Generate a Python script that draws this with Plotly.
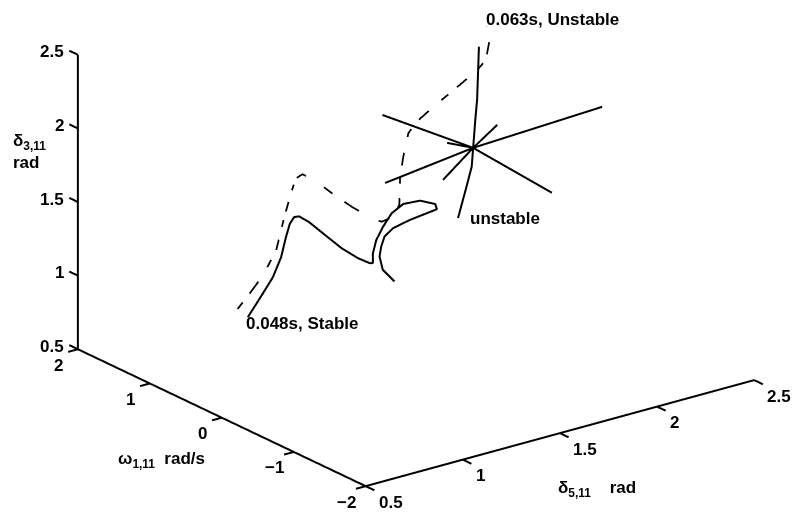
import plotly.graph_objects as go

# ---- trajectory data: (delta_5,11 [rad], omega_1,11 [rad/s], delta_3,11 [rad]) ----
# clearing time 0.048 s -> stable trajectory
stab_d5 = [1.004, 1.101, 1.170, 1.194, 1.182, 1.165, 1.150, 1.138, 1.133, 1.144,
           1.155, 1.165, 1.169, 1.167, 1.167, 1.203, 1.275, 1.356, 1.453, 1.558,
           1.636, 1.626, 1.555, 1.431, 1.308, 1.227, 1.191, 1.164, 1.162, 1.178, 1.185]
stab_w = [1.0, 1.1, 1.1, 1.05, 0.95, 0.85, 0.75, 0.65, 0.5, 0.3,
          0.1, -0.1, -0.25, -0.3, -0.3, -0.25, -0.15, -0.05, 0.05, 0.1,
          0.1, 0.05, 0.0, -0.1, -0.2, -0.3, -0.35, -0.4, -0.45, -0.5, -0.55]
stab_d3 = [0.768, 0.834, 0.956, 1.095, 1.259, 1.380, 1.454, 1.487, 1.486, 1.438,
           1.391, 1.367, 1.367, 1.379, 1.447, 1.513, 1.554, 1.592, 1.597, 1.570,
           1.519, 1.499, 1.509, 1.531, 1.543, 1.539, 1.495, 1.449, 1.371, 1.332, 1.307]

# clearing time 0.063 s -> unstable trajectory
unst_d5 = [0.952, 1.049, 1.137, 1.187, 1.192, 1.189, 1.177, 1.174, 1.196, 1.235,
           1.281, 1.328, 1.353, 1.391, 1.414, 1.418, 1.442, 1.479, 1.541, 1.664,
           1.805, 1.982, 2.063, 2.136, 2.176]
unst_w = [1.0, 1.1, 1.15, 1.1, 1.0, 0.9, 0.8, 0.7, 0.6, 0.45,
          0.3, 0.15, 0.08, 0.02, 0.0, 0.0, 0.02, 0.05, 0.1, 0.2,
          0.3, 0.45, 0.55, 0.7, 0.85]
unst_d3 = [0.843, 0.887, 0.968, 1.132, 1.380, 1.564, 1.694, 1.748, 1.728, 1.654,
           1.581, 1.521, 1.505, 1.540, 1.616, 1.807, 1.930, 2.069, 2.113, 2.147,
           2.186, 2.223, 2.239, 2.301, 2.354]

# unstable equilibrium point and the manifold curve through it
uep = (1.794, 0.0, 1.867)
man_d5 = [1.605, 1.686, 1.757, 1.794, 1.842, 1.881, 1.972]
man_w = [-0.3, -0.2, -0.08, 0.0, 0.1, 0.18, 0.4]
man_d3 = [1.528, 1.690, 1.772, 1.867, 2.016, 2.120, 2.397]

# eigen-direction rays through the UEP (start, end); None = ends at the UEP
ray_start = [(1.438, 0.3, 2.149), (1.378, 0.1, 1.755), (1.602, -0.1, 1.742), (1.660, 0.0, 1.949)]
ray_end = [(2.088, -0.3, 1.526), (2.421, -0.1, 1.943), (1.955, 0.1, 1.942), None]

# axis ticks
d5_ticks = [0.5, 1, 1.5, 2, 2.5]
w_ticks = [-2, -1, 0, 1, 2]
d3_ticks = [0.5, 1, 1.5, 2, 2.5]
d5_labels = ["0.5", "1", "1.5", "2", "2.5"]
w_labels = ["\u22122", "\u22121", "0", "1", "2"]
d3_labels = ["0.5", "1", "1.5", "2", "2.5"]

d5_min, d5_max = d5_ticks[0], d5_ticks[-1]
w_min, w_max = w_ticks[0], w_ticks[-1]
d3_min, d3_max = d3_ticks[0], d3_ticks[-1]

FONT = dict(family="Liberation Sans, Arial, sans-serif", size=17, color="black", weight="bold")
BLACK = "black"
LW = 4

fig = go.Figure()

# trajectories
fig.add_trace(go.Scatter3d(x=stab_d5, y=stab_w, z=stab_d3, mode="lines",
                           line=dict(color=BLACK, width=LW)))
fig.add_trace(go.Scatter3d(x=unst_d5, y=unst_w, z=unst_d3, mode="lines",
                           line=dict(color=BLACK, width=3.5, dash="longdashdot")))
fig.add_trace(go.Scatter3d(x=man_d5, y=man_w, z=man_d3, mode="lines",
                           line=dict(color=BLACK, width=LW)))

rx, ry, rz = [], [], []
for s, e in zip(ray_start, ray_end):
    pts = [s, uep] + ([e] if e is not None else [])
    for p in pts:
        rx.append(p[0]); ry.append(p[1]); rz.append(p[2])
    rx.append(None); ry.append(None); rz.append(None)
fig.add_trace(go.Scatter3d(x=rx, y=ry, z=rz, mode="lines",
                           line=dict(color=BLACK, width=LW)))

# axis lines along the near edges of the box, with outward tick marks
ax_x = [d5_min, d5_min, None, d5_min, d5_min, None, d5_min, d5_max]
ax_y = [w_max, w_max, None, w_max, w_min, None, w_min, w_min]
ax_z = [d3_min, d3_max, None, d3_min, d3_min, None, d3_min, d3_min]
tick_w = 0.12   # tick length along omega
tick_d = 0.05   # tick length along delta_5
for t in d3_ticks:
    ax_x += [None, d5_min, d5_min]; ax_y += [None, w_max, w_max + tick_w]; ax_z += [None, t, t]
for t in w_ticks:
    ax_x += [None, d5_min, d5_min - tick_d]; ax_y += [None, t, t]; ax_z += [None, d3_min, d3_min]
for t in d5_ticks:
    ax_x += [None, t, t]; ax_y += [None, w_min, w_min - tick_w]; ax_z += [None, d3_min, d3_min]
fig.add_trace(go.Scatter3d(x=ax_x, y=ax_y, z=ax_z, mode="lines",
                           line=dict(color=BLACK, width=LW)))

anns = []
for t, lab in zip(d3_ticks, d3_labels):
    anns.append(dict(x=d5_min, y=w_max, z=t, text=lab, xanchor="right", yanchor="middle",
                     xshift=-12, yshift=3))
for t, lab in zip(w_ticks, w_labels):
    anns.append(dict(x=d5_min, y=t, z=d3_min, text=lab, xanchor="center", yanchor="middle",
                     xshift=-19, yshift=-16))
for t, lab in zip(d5_ticks, d5_labels):
    anns.append(dict(x=t, y=w_min, z=d3_min, text=lab, xanchor="left", yanchor="middle",
                     xshift=11, yshift=-16))

# axis titles
anns.append(dict(x=d5_min, y=w_max, z=1.84, text="\u03b4<sub>3,11</sub><br>rad", align="left",
                 xanchor="left", yanchor="middle", xshift=-67, yshift=0))
anns.append(dict(x=d5_min, y=0.5, z=d3_min, text="\u03c9<sub>1,11</sub>  rad/s",
                 xanchor="center", yanchor="middle", xshift=-24, yshift=-59))
anns.append(dict(x=1.5, y=w_min, z=d3_min, text="\u03b4<sub>5,11</sub>    rad",
                 xanchor="center", yanchor="middle", xshift=37, yshift=-56))

# curve labels
anns.append(dict(x=unst_d5[-1], y=unst_w[-1], z=unst_d3[-1], text="0.063s, Unstable",
                 xanchor="left", yanchor="middle", xshift=-2, yshift=7))
anns.append(dict(x=man_d5[0], y=man_w[0], z=man_d3[0], text="unstable",
                 xanchor="left", yanchor="middle", xshift=10, yshift=0))
anns.append(dict(x=stab_d5[0], y=stab_w[0], z=stab_d3[0], text="0.048s, Stable",
                 xanchor="left", yanchor="middle", xshift=-4, yshift=-6))

for a in anns:
    a["showarrow"] = False
    a["font"] = FONT

hidden = dict(visible=False, autorange=False)
fig.update_layout(
    width=795, height=514,
    margin=dict(l=0, r=0, t=0, b=0),
    paper_bgcolor="white",
    showlegend=False,
    scene=dict(
        domain=dict(x=[0, 1], y=[0, 1]),
        xaxis=dict(range=[0.4, 2.6], **hidden),
        yaxis=dict(range=[-2.2, 2.2], **hidden),
        zaxis=dict(range=[0.4, 2.6], **hidden),
        aspectmode="manual",
        aspectratio=dict(x=2.086, y=2.04, z=1.351),
        camera=dict(
            projection=dict(type="orthographic"),
            up=dict(x=0, y=0, z=1),
            center=dict(x=-0.091, y=-0.0007, z=-0.1435),
            eye=dict(x=-1.781, y=-2.232, z=0.938),
        ),
        annotations=anns,
        bgcolor="white",
    ),
)

fig.write_html("out.html")
